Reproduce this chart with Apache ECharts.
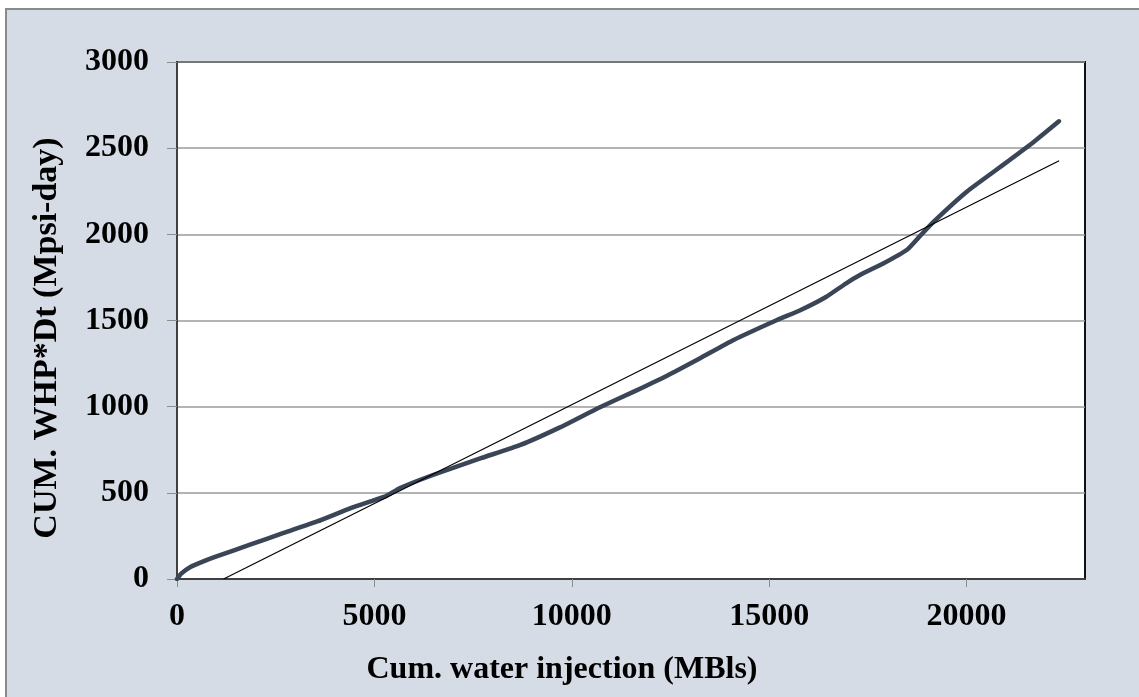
<!DOCTYPE html>
<html>
<head>
<meta charset="utf-8">
<script src="https://cdn.jsdelivr.net/npm/echarts@6/dist/echarts.min.js"></script>
<style>
  html, body { margin: 0; padding: 0; background: #ffffff; }
  #chart { width: 1139px; height: 697px; }
</style>
</head>
<body>
<div id="chart"></div>
<script>
// Cumulative water injection (MBls) vs cumulative WHP*Dt (Mpsi-day)
const cumInjection = [0, 100, 340, 700, 1000, 1850, 2700, 3550, 4400, 5000, 5300, 5650, 6500, 7700, 8700, 9700, 10700, 11600, 12400, 13250, 14100, 15200, 15800, 16450, 16950, 17300, 17900, 18500, 18800, 19175, 20020, 20860, 21700, 22340];
const cumWhpDt     = [0, 30, 70, 105, 131, 199, 267, 334, 411, 458, 482, 528, 605, 701, 778, 880, 995, 1090, 1178, 1281, 1387, 1503, 1561, 1638, 1716, 1764, 1832, 1912, 1985, 2075, 2250, 2392, 2536, 2656];

// Straight-line fit drawn across the injection range
const trendX = [1180, 22345];
const trendY = [0, 2427];

const xTicks = [0, 5000, 10000, 15000, 20000];
const yTicks = [0, 500, 1000, 1500, 2000, 2500, 3000];

const xTitle = 'Cum. water injection (MBls)';
const yTitle = 'CUM. WHP*Dt (Mpsi-day)';

const font = '"Liberation Serif", "Times New Roman", serif';
const plain = v => String(v);

const chart = echarts.init(document.getElementById('chart'));
chart.setOption({
  animation: false,
  backgroundColor: '#ffffff',
  graphic: [
    {
      type: 'rect',
      z: -10,
      shape: { x: 6, y: 9, width: 1200, height: 800 },
      style: { fill: '#D6DCE5', stroke: '#8a8a8a', lineWidth: 2 }
    },
    {
      type: 'text',
      x: 562, y: 670,
      style: {
        text: xTitle, fill: '#000',
        font: 'bold 32px ' + font,
        textAlign: 'center', textVerticalAlign: 'middle'
      }
    },
    {
      type: 'text',
      x: 47, y: 338,
      rotation: Math.PI / 2,
      style: {
        text: yTitle, fill: '#000',
        font: 'bold 34px ' + font,
        textAlign: 'center', textVerticalAlign: 'middle'
      }
    }
  ],
  grid: {
    left: 177, right: 54, top: 62, bottom: 118,
    show: true, backgroundColor: '#ffffff',
    borderColor: '#111111', borderWidth: 2
  },
  xAxis: {
    type: 'value',
    min: 0, max: 23000, interval: 5000,
    axisLine: { show: true, onZero: false, lineStyle: { color: '#404040', width: 2 } },
    axisTick: { show: true, length: 8, customValues: xTicks, lineStyle: { color: '#8c8c8c', width: 1 } },
    axisLabel: {
      customValues: xTicks, margin: 22, formatter: plain,
      fontFamily: font, fontWeight: 'bold', fontSize: 32, color: '#000'
    },
    splitLine: { show: false }
  },
  yAxis: {
    type: 'value',
    min: 0, max: 3000, interval: 500,
    axisLine: { show: true, lineStyle: { color: '#404040', width: 2 } },
    axisTick: { show: true, length: 10, customValues: yTicks, lineStyle: { color: '#8c8c8c', width: 1 } },
    axisLabel: {
      customValues: yTicks, margin: 28, formatter: plain,
      fontFamily: font, fontWeight: 'bold', fontSize: 32, color: '#000'
    },
    splitLine: { show: true, lineStyle: { color: '#9a9a9a', width: 1.5 } }
  },
  series: [
    {
      type: 'line',
      data: cumInjection.map((x, i) => [x, cumWhpDt[i]]),
      showSymbol: false,
      smooth: 0.15,
      lineStyle: { color: '#3A4557', width: 4.5, cap: 'round', join: 'round' },
      z: 3
    },
    {
      type: 'line',
      data: trendX.map((x, i) => [x, trendY[i]]),
      showSymbol: false,
      lineStyle: { color: '#000000', width: 1.2 },
      z: 4
    }
  ]
});
</script>
</body>
</html>
